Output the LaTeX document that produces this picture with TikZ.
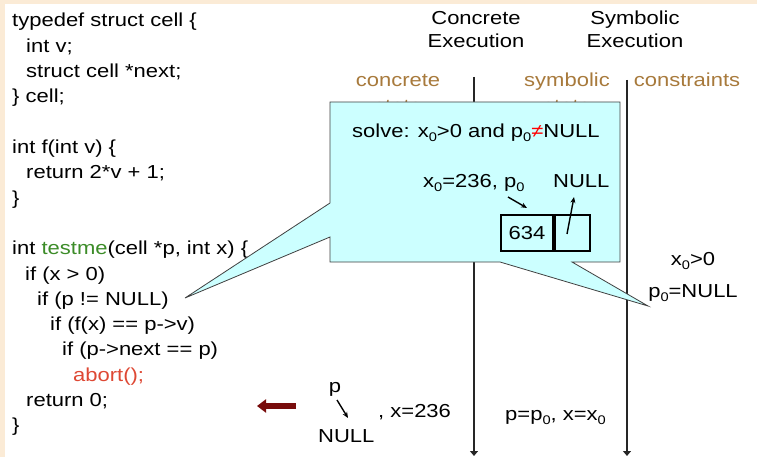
\documentclass[tikz,border=0pt]{standalone}
\usepackage{fontspec}
\setmainfont[FakeStretch=1.17]{Liberation Sans}
\usepackage{tikz}
\usetikzlibrary{arrows.meta, positioning}

\definecolor{bgbeige}{RGB}{251,235,214}
\definecolor{codegreen}{RGB}{60,140,40}
\definecolor{codered}{RGB}{222,72,52}
\definecolor{labelbrown}{RGB}{168,122,60}
\definecolor{calloutfill}{RGB}{204,255,255}
\definecolor{arrowred}{RGB}{120,12,12}

\newcommand{\fs}{\fontsize{18.8}{23}\selectfont}
\newcommand{\lo}[1]{\raisebox{-4pt}{\fontsize{12.5}{12.5}\selectfont #1}}

\tikzset{
  txt/.style={anchor=base west, inner sep=0pt, font=\fs},
  ctxt/.style={anchor=base, inner sep=0pt, font=\fs},
  lane/.style={line width=1.2pt, draw=black!85, -{Triangle[width=8pt,length=5pt]}},
  ptr/.style={line width=1.4pt, -{Stealth[length=6pt,width=5pt]}},
  cellbox/.style={draw, line width=2pt, minimum height=36pt, inner sep=0pt, font=\fs},
}

\begin{document}
\begin{tikzpicture}[x=1pt, y=-1pt]

\useasboundingbox (0,0) rectangle (757,457);

% ── Frame ────────────────────────────────────────────────────────
\fill[bgbeige] (0,0) rectangle (757,457);
\fill[white] (5,4) rectangle (757,457);

% ── Program text ─────────────────────────────────────────────────
\foreach \i/\xx/\txt in {
    0/12/{typedef struct cell \{},
    1/26/{int v;},
    2/26/{struct cell *next;},
    3/12/{\} cell;},
    5/12/{int f(int v) \{},
    6/26/{return 2*v + 1;},
    7/12/{\}},
    9/12/{int \textcolor{codegreen}{testme}(cell *p, int x) \{},
    10/25/{if (x > 0)},
    11/37/{if (p != NULL)},
    12/50/{if (f(x) == p->v)},
    13/62/{if (p->next == p)},
    14/73/{\textcolor{codered}{abort();}},
    15/26/{return 0;},
    16/12/{\}}} {
    \node[txt] (code\i) at (\xx, 27+\i*25.3) {\txt};
}

% ── Column headings ──────────────────────────────────────────────
\node[ctxt] (concA) at (476,25) {Concrete};
\node[ctxt] (concB) at (476,48) {Execution};
\node[ctxt] (symbA) at (635,25) {Symbolic};
\node[ctxt] (symbB) at (635,48) {Execution};

\node[ctxt, text=labelbrown] (concL) at (398,87) {concrete};
\node[ctxt, text=labelbrown] (concS) at (398,113) {state};
\node[ctxt, text=labelbrown] (symbL) at (567,87) {symbolic};
\node[ctxt, text=labelbrown] (symbS) at (567,113) {state};
\node[ctxt, text=labelbrown] (consL) at (687,87) {constraints};

% Lanes
\coordinate (concTop) at (474,77);
\coordinate (concBot) at (474,456);
\coordinate (symbTop) at (627,80);
\coordinate (symbBot) at (627,456);
\draw[lane] (concTop) -- (concBot);
\draw[lane] (symbTop) -- (symbBot);

% ── Callout ──────────────────────────────────────────────────────
\draw[draw=black!75, fill=calloutfill, line width=0.8pt]
    (330,102) -- (620,102) -- (620,262) -- (572,262) -- (648,306) -- (500,262)
    -- (330,262) -- (330,237) -- (185,298) -- (330,203) -- cycle;

\node[txt] (solve) at (352,138)
    {solve: x\lo{0}>0 and p\lo{0}\textcolor{red}{≠}NULL};
\node[txt] (model) at (423,188) {x\lo{0}=236, p\lo{0}};
\node[txt] (nullB) at (553,188) {NULL};

\node[cellbox, minimum width=52pt, anchor=south west] (val) at (500,252) {634};
\node[cellbox, minimum width=35pt, right=0pt of val] (nxt) {};

\coordinate (pTail) at (508,197);
\coordinate (pHead) at (527,208);
\draw[ptr] (pTail) -- (pHead);
\coordinate (nxtTail) at (567,234);
\coordinate (nxtHead) at (574,197);
\draw[ptr] (nxtTail) -- (nxtHead);

% ── Constraints ──────────────────────────────────────────────────
\node[ctxt] (consA) at (693,265) {x\lo{0}>0};
\node[ctxt] (consB) at (693,297) {p\lo{0}=NULL};

% ── Bottom row ───────────────────────────────────────────────────
\coordinate (redTail) at (296,406);
\coordinate (redTip) at (257,406);
\draw[line width=6pt, draw=arrowred, -{Triangle[width=13pt,length=9pt]}] (redTail) -- (redTip);

\node[ctxt] (pp) at (335,392) {p};
\coordinate (ppTail) at (337,400);
\coordinate (ppHead) at (348,418);
\draw[ptr] (ppTail) -- (ppHead);
\node[txt] (nullC) at (318,442) {NULL};
\node[txt] (xval) at (378,417) {, x=236};
\node[txt] (symbState) at (505,420) {p=p\lo{0}, x=x\lo{0}};

\end{tikzpicture}
\end{document}
